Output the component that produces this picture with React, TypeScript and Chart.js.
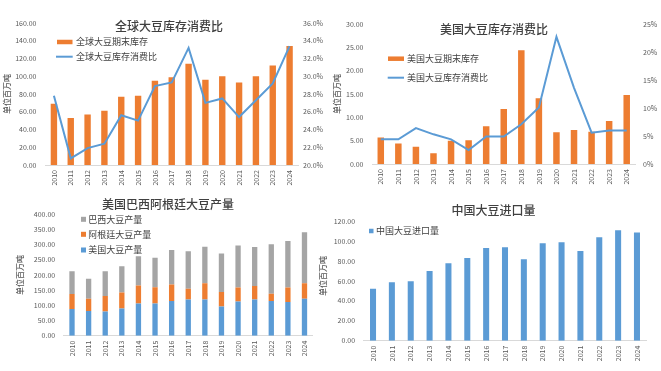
import React, { useEffect, useRef } from "react";
import { Chart, registerables } from "chart.js";

Chart.register(...registerables);

// ---------------- DATA ----------------
const YEARS = ["2010", "2011", "2012", "2013", "2014", "2015", "2016", "2017", "2018", "2019", "2020", "2021", "2022", "2023", "2024"];

const globalStock = [69, 53, 57, 61, 77, 78, 95, 99, 114, 96, 100, 93, 100, 112, 134];
const globalRatio = [27.8, 20.75, 21.9, 22.4, 25.6, 25.0, 28.9, 29.3, 33.2, 27.0, 27.5, 25.4, 27.3, 29.2, 33.4];

const usStock = [5.7, 4.4, 3.7, 2.3, 5.0, 5.1, 8.1, 11.8, 24.4, 14.1, 6.8, 7.3, 6.9, 9.2, 14.8];
const usRatio = [4.4, 4.4, 6.4, 5.3, 4.4, 2.5, 4.9, 4.9, 7.1, 10.1, 22.7, 13.6, 5.6, 6.0, 6.0];

const usProd = [88, 81, 80, 90, 106, 106, 114, 119, 119, 96, 113, 119, 114, 111, 122];
const argProd = [49, 41, 51, 52, 59, 54, 55, 36, 54, 48, 46, 45, 24, 48, 51];
const brazilProd = [75, 66, 81, 87, 97, 97, 113, 123, 120, 127, 138, 128, 163, 153, 168];

const chinaImports = [52.2, 58.5, 59.5, 69.9, 77.6, 82.9, 93.0, 93.6, 81.6, 97.7, 98.7, 90.0, 103.7, 110.7, 108.4];

const TITLES = ["全球大豆库存消费比", "美国大豆库存消费比", "美国巴西阿根廷大豆产量", "中国大豆进口量"];
const UNIT = "单位百万吨";

// ---------------- STYLE ----------------
const FONT = '"Noto Sans CJK SC", "Noto Sans", sans-serif';
const TEXT = "#595959";
const DARK_TEXT = "#404040";
const ORANGE = "#ED7D31";
const BLUE = "#5B9BD5";
const GRAY = "#A5A5A5";
const AXIS_LINE = "#D9D9D9";

type LegendItem = { ds: number; kind: "rect" | "line"; x: number; y: number; w: number; h: number; tx: number };
type Deco = {
  title: { text: string; x: number; y: number };
  legend: LegendItem[];
  vtitles?: { text: string; x: number; y: number }[];
};

function decoPlugin(deco: Deco) {
  return {
    id: "deco",
    afterDraw(chart: any) {
      const ctx: CanvasRenderingContext2D = chart.ctx;
      ctx.save();
      ctx.textBaseline = "middle";
      // title
      ctx.font = `500 12px ${FONT}`;
      ctx.fillStyle = DARK_TEXT;
      ctx.textAlign = "center";
      ctx.fillText(deco.title.text, deco.title.x, deco.title.y);
      // legend
      ctx.textAlign = "left";
      ctx.font = `9px ${FONT}`;
      for (const it of deco.legend) {
        const ds = chart.data.datasets[it.ds];
        if (it.kind === "line") {
          ctx.strokeStyle = ds.borderColor;
          ctx.lineWidth = it.h;
          ctx.beginPath();
          ctx.moveTo(it.x, it.y);
          ctx.lineTo(it.x + it.w, it.y);
          ctx.stroke();
        } else {
          ctx.fillStyle = ds.backgroundColor;
          ctx.fillRect(it.x, it.y - it.h / 2, it.w, it.h);
        }
        ctx.fillStyle = DARK_TEXT;
        ctx.fillText(ds.label, it.tx, it.y);
      }
      // extra vertical titles
      ctx.font = `500 8px ${FONT}`;
      ctx.textAlign = "center";
      for (const t of deco.vtitles || []) {
        ctx.save();
        ctx.translate(t.x, t.y);
        ctx.rotate(-Math.PI / 2);
        ctx.fillStyle = TEXT;
        ctx.fillText(t.text, 0, 0);
        ctx.restore();
      }
      ctx.restore();
    },
  };
}

const tickFont = { family: FONT, size: 7 };

function xAxis(height: number, stacked = false) {
  return {
    type: "category",
    stacked,
    grid: { display: false, drawTicks: false },
    border: { display: true, color: AXIS_LINE, width: 1 },
    ticks: { font: tickFont, color: TEXT, minRotation: 90, maxRotation: 90, padding: 5, autoSkip: false },
    afterFit: (s: any) => {
      s.height = height;
    },
  };
}

function yAxis(opts: {
  position: "left" | "right";
  min: number;
  max: number;
  step: number;
  fmt: (v: number) => string;
  width: number;
  padding: number;
  title?: { pad: number };
  stacked?: boolean;
}) {
  return {
    type: "linear",
    position: opts.position,
    stacked: opts.stacked,
    min: opts.min,
    max: opts.max,
    grid: { display: false, drawTicks: false },
    border: { display: false },
    ticks: {
      stepSize: opts.step,
      font: tickFont,
      color: TEXT,
      padding: opts.padding,
      callback: (v: any) => opts.fmt(Number(v)),
    },
    title: opts.title
      ? { display: true, text: UNIT, font: { family: FONT, size: 8, weight: "500" }, color: TEXT, padding: { top: opts.title.pad, bottom: 0 } }
      : { display: false },
    afterFit: (s: any) => {
      s.width = opts.width;
    },
  };
}

const baseOptions = (padding: any) => ({
  responsive: false,
  animation: false as const,
  devicePixelRatio: 1,
  layout: { padding },
  plugins: { legend: { display: false }, title: { display: false }, tooltip: { enabled: false } },
});

function config1(): any {
  return {
    type: "bar",
    data: {
      labels: YEARS,
      datasets: [
        {
          type: "line",
          label: "全球大豆库存消费比",
          data: globalRatio,
          yAxisID: "y1",
          borderColor: BLUE,
          backgroundColor: BLUE,
          borderWidth: 2,
          pointRadius: 0,
          tension: 0,
          order: 0,
        },
        {
          type: "bar",
          label: "全球大豆期末库存",
          data: globalStock,
          yAxisID: "y",
          backgroundColor: ORANGE,
          barPercentage: 0.38,
          categoryPercentage: 1,
          order: 1,
        },
      ],
    },
    options: {
      ...baseOptions({ left: 0, right: 0, top: 23, bottom: 0 }),
      scales: {
        x: xAxis(25),
        y: yAxis({ position: "left", min: 0, max: 160, step: 20, fmt: (v) => v.toFixed(2), width: 45.5, padding: 9, title: { pad: 2 } }),
        y1: yAxis({ position: "right", min: 20, max: 36, step: 2, fmt: (v) => v.toFixed(1) + "%", width: 32, padding: 5 }),
      },
    },
    plugins: [
      decoPlugin({
        title: { text: TITLES[0], x: 169, y: 26 },
        legend: [
          { ds: 1, kind: "rect", x: 57, y: 42, w: 15.5, h: 4.5, tx: 76 },
          { ds: 0, kind: "line", x: 56, y: 56.7, w: 16.7, h: 2, tx: 76 },
        ],
      }),
    ],
  };
}

function config2(): any {
  return {
    type: "bar",
    data: {
      labels: YEARS,
      datasets: [
        {
          type: "line",
          label: "美国大豆库存消费比",
          data: usRatio,
          yAxisID: "y1",
          borderColor: BLUE,
          backgroundColor: BLUE,
          borderWidth: 2,
          pointRadius: 0,
          tension: 0,
          order: 0,
        },
        {
          type: "bar",
          label: "美国大豆期末库存",
          data: usStock,
          yAxisID: "y",
          backgroundColor: ORANGE,
          barPercentage: 0.37,
          categoryPercentage: 1,
          order: 1,
        },
      ],
    },
    options: {
      ...baseOptions({ left: 0, right: 0, top: 24, bottom: 0 }),
      scales: {
        x: xAxis(26),
        y: yAxis({ position: "left", min: 0, max: 30, step: 5, fmt: (v) => v.toFixed(2), width: 42, padding: 8.5, title: { pad: 1.7 } }),
        y1: yAxis({ position: "right", min: 0, max: 25, step: 5, fmt: (v) => v.toFixed(0) + "%", width: 25.5, padding: 7.5 }),
      },
    },
    plugins: [
      decoPlugin({
        title: { text: TITLES[1], x: 164, y: 29.3 },
        legend: [
          { ds: 1, kind: "rect", x: 58, y: 58.7, w: 16, h: 4.5, tx: 77 },
          { ds: 0, kind: "line", x: 57.7, y: 77.7, w: 16.3, h: 2, tx: 77 },
        ],
      }),
    ],
  };
}

function config3(): any {
  const bar = { barPercentage: 0.32, categoryPercentage: 1 };
  return {
    type: "bar",
    data: {
      labels: YEARS,
      datasets: [
        { label: "美国大豆产量", data: usProd, backgroundColor: BLUE, ...bar },
        { label: "阿根廷大豆产量", data: argProd, backgroundColor: ORANGE, ...bar },
        { label: "巴西大豆产量", data: brazilProd, backgroundColor: GRAY, ...bar },
      ],
    },
    options: {
      ...baseOptions({ left: 13, right: 17.2, top: 24.3, bottom: 0 }),
      scales: {
        x: xAxis(35.3, true),
        y: yAxis({ position: "left", min: 0, max: 400, step: 50, fmt: (v) => v.toFixed(2), width: 50.7, padding: 8.5, title: { pad: 2.2 }, stacked: true }),
      },
    },
    plugins: [
      decoPlugin({
        title: { text: TITLES[2], x: 168, y: 14 },
        legend: [
          { ds: 2, kind: "rect", x: 81, y: 29.3, w: 5, h: 5, tx: 88.3 },
          { ds: 1, kind: "rect", x: 81, y: 44.3, w: 5, h: 5, tx: 88.3 },
          { ds: 0, kind: "rect", x: 81, y: 60, w: 5, h: 5, tx: 88.3 },
        ],
        vtitles: [{ text: UNIT, x: 323, y: 86 }],
      }),
    ],
  };
}

function config4(): any {
  return {
    type: "bar",
    data: {
      labels: YEARS,
      datasets: [
        { label: "中国大豆进口量", data: chinaImports, backgroundColor: BLUE, barPercentage: 0.32, categoryPercentage: 1 },
      ],
    },
    options: {
      ...baseOptions({ left: 0, right: 14.6, top: 31, bottom: 0 }),
      scales: {
        x: xAxis(30.3),
        y: yAxis({ position: "left", min: 0, max: 120, step: 20, fmt: (v) => v.toFixed(2), width: 33.6, padding: 8.5 }),
      },
    },
    plugins: [
      decoPlugin({
        title: { text: TITLES[3], x: 163.5, y: 20.7 },
        legend: [{ ds: 0, kind: "rect", x: 39, y: 41, w: 4.5, h: 4.5, tx: 46 }],
      }),
    ],
  };
}

function Panel(props: { left: number; top: number; width: number; height: number; build: () => any }) {
  const ref = useRef<HTMLCanvasElement>(null);
  useEffect(() => {
    const chart = new Chart(ref.current as HTMLCanvasElement, props.build());
    return () => chart.destroy();
  }, []);
  return (
    <div style={{ position: "absolute", left: props.left, top: props.top, width: props.width, height: props.height }}>
      <canvas ref={ref} width={props.width} height={props.height} style={{ display: "block", width: props.width, height: props.height }} />
    </div>
  );
}

export default function App() {
  return (
    <div style={{ position: "absolute", left: 0, top: 0, width: 661, height: 371, background: "#ffffff", overflow: "hidden" }}>
      <Panel left={0} top={0} width={330} height={190} build={config1} />
      <Panel left={330} top={0} width={331} height={190} build={config2} />
      <Panel left={0} top={190} width={330} height={181} build={config3} />
      <Panel left={330} top={190} width={331} height={181} build={config4} />
    </div>
  );
}
